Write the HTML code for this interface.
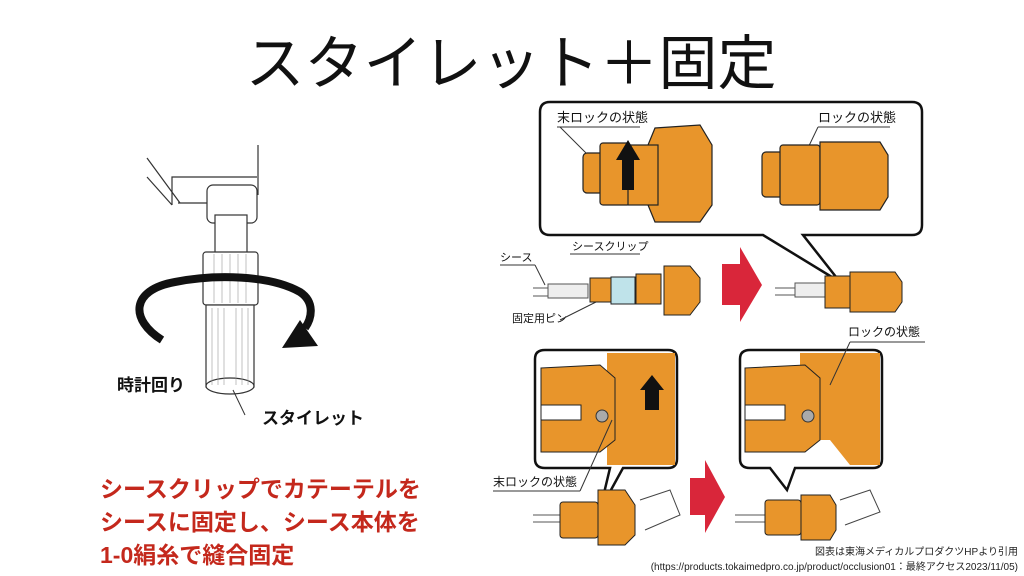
<!DOCTYPE html>
<html><head><meta charset="utf-8"><style>
html,body{margin:0;padding:0;background:#fff}
svg{display:block}
text{font-family:"Liberation Sans","Noto Sans CJK JP",sans-serif}
</style></head><body>
<svg width="1024" height="576" viewBox="0 0 1024 576" xmlns="http://www.w3.org/2000/svg">
<rect width="1024" height="576" fill="#fff"/>
<text x="511" y="84" font-size="59" text-anchor="middle" fill="#111">スタイレット＋固定</text>

<!-- left stylet illustration -->
<g stroke="#333" stroke-width="1.2" fill="#fff">
<line x1="147" y1="158" x2="180" y2="203"/>
<line x1="147" y1="177" x2="172" y2="205"/>
<polyline points="172,205 172,177 257,177" fill="none"/>
<line x1="258" y1="145" x2="258" y2="195"/>
<line x1="178" y1="203" x2="208" y2="203"/>
<rect x="207" y="185" width="50" height="38" rx="6"/>
<rect x="215" y="215" width="32" height="38"/>
<rect x="203" y="252" width="55" height="53" rx="3"/>
<rect x="206" y="305" width="48" height="82"/>
<ellipse cx="230" cy="386" rx="24" ry="8"/>
</g>
<g stroke="#999" stroke-width="0.6">
<line x1="212" y1="308" x2="212" y2="385"/><line x1="218" y1="308" x2="218" y2="385"/><line x1="224" y1="308" x2="224" y2="385"/><line x1="236" y1="308" x2="236" y2="385"/><line x1="242" y1="308" x2="242" y2="385"/><line x1="248" y1="308" x2="248" y2="385"/>
<line x1="214" y1="254" x2="214" y2="303"/><line x1="222" y1="254" x2="222" y2="303"/><line x1="230" y1="254" x2="230" y2="303"/><line x1="238" y1="254" x2="238" y2="303"/><line x1="246" y1="254" x2="246" y2="303"/>
</g>
<path d="M162,340 C130,320 130,290 175,282 C215,274 270,275 300,292 C315,302 312,318 305,328" fill="none" stroke="#111" stroke-width="8"/>
<polygon points="282,348 318,346 300,320" fill="#111"/>
<line x1="233" y1="390" x2="245" y2="415" stroke="#333" stroke-width="1"/>
<text x="117" y="391" font-size="17" font-weight="bold" fill="#111">時計回り</text>
<text x="262" y="424" font-size="17" font-weight="bold" fill="#111">スタイレット</text>

<!-- red text -->
<g font-size="23" font-weight="bold" fill="#C4281C">
<text x="100" y="497">シースクリップでカテーテルを</text>
<text x="100" y="530">シースに固定し、シース本体を</text>
<text x="100" y="563">1-0絹糸で縫合固定</text>
</g>

<!-- right diagram: top callout -->
<path d="M550,102 H912 Q922,102 922,112 V225 Q922,235 912,235 H803 L840,282 L763,235 H550 Q540,235 540,225 V112 Q540,102 550,102 Z" fill="#fff" stroke="#111" stroke-width="2.5"/>
<text x="557" y="122" font-size="13" fill="#111">末ロックの状態</text>
<text x="818" y="122" font-size="13" fill="#111">ロックの状態</text>
<line x1="557" y1="127" x2="640" y2="127" stroke="#333"/>
<line x1="560" y1="127" x2="608" y2="175" stroke="#333"/>
<line x1="818" y1="127" x2="890" y2="127" stroke="#333"/>
<line x1="818" y1="127" x2="795" y2="175" stroke="#333"/>
<g fill="#E8952B" stroke="#222" stroke-width="1.2">
<rect x="583" y="153" width="45" height="40" rx="4"/>
<rect x="600" y="143" width="30" height="62" rx="3"/>
<path d="M655,128 L700,125 L712,145 L712,205 L700,222 L655,222 L648,205 L648,145 Z"/>
<rect x="628" y="145" width="30" height="60"/>
<rect x="762" y="152" width="40" height="45" rx="4"/>
<rect x="780" y="145" width="40" height="60" rx="3"/>
<path d="M820,142 L880,142 L888,155 L888,197 L880,210 L820,210 Z"/>
</g>
<path d="M622,190 L622,160 L616,160 L628,140 L640,160 L634,160 L634,190 Z" fill="#111"/>

<!-- middle row -->
<text x="500" y="261" font-size="11" fill="#111">シース</text>
<text x="572" y="250" font-size="11" fill="#111">シースクリップ</text>
<text x="512" y="322" font-size="11" fill="#111">固定用ピン</text>
<line x1="500" y1="265" x2="535" y2="265" stroke="#333"/>
<line x1="535" y1="265" x2="545" y2="285" stroke="#333"/>
<line x1="570" y1="254" x2="640" y2="254" stroke="#333"/>
<line x1="560" y1="320" x2="600" y2="300" stroke="#333"/>
<line x1="533" y1="288" x2="560" y2="288" stroke="#555" stroke-width="1"/>
<line x1="533" y1="296" x2="560" y2="296" stroke="#555" stroke-width="1"/>
<rect x="548" y="284" width="40" height="14" fill="#eee" stroke="#555"/>
<rect x="590" y="278" width="28" height="24" fill="#E8952B" stroke="#222"/>
<rect x="611" y="277" width="24" height="27" fill="#BFE3EA" stroke="#222"/>
<rect x="636" y="274" width="25" height="30" fill="#E8952B" stroke="#222"/>
<path d="M664,266 L690,266 L700,278 L700,302 L690,315 L664,315 Z" fill="#E8952B" stroke="#222"/>
<polygon points="722,264 740,264 740,247 762,285 740,322 740,305 722,305" fill="#D9263A"/>
<line x1="775" y1="288" x2="800" y2="288" stroke="#555"/>
<line x1="775" y1="295" x2="800" y2="295" stroke="#555"/>
<rect x="795" y="283" width="30" height="14" fill="#eee" stroke="#555"/>
<rect x="825" y="276" width="25" height="32" fill="#E8952B" stroke="#222"/>
<path d="M850,272 L895,272 L902,282 L902,302 L895,312 L850,312 Z" fill="#E8952B" stroke="#222"/>
<text x="848" y="336" font-size="12" fill="#111">ロックの状態</text>
<line x1="850" y1="342" x2="925" y2="342" stroke="#333"/>

<!-- bottom boxes -->
<path d="M545,350 H668 Q677,350 677,359 V459 Q677,468 668,468 H623 L600,510 L610,468 H545 Q535,468 535,459 V359 Q535,350 545,350 Z" fill="#fff" stroke="#111" stroke-width="2.5"/>
<rect x="607" y="353" width="68" height="112" fill="#E8952B"/>
<path d="M541,368 L600,365 L615,378 L615,440 L600,452 L541,452 Z" fill="#E8952B" stroke="#222"/>
<rect x="541" y="405" width="40" height="15" fill="#fff" stroke="#222"/>
<circle cx="602" cy="416" r="6" fill="#aaa" stroke="#333"/>
<path d="M645,410 L645,390 L640,390 L652,375 L664,390 L659,390 L659,410 Z" fill="#111"/>

<path d="M750,350 H873 Q882,350 882,359 V459 Q882,468 873,468 H795 L787,490 L770,468 H750 Q740,468 740,459 V359 Q740,350 750,350 Z" fill="#fff" stroke="#111" stroke-width="2.5"/>
<path d="M800,353 H880 V465 H850 L830,440 L800,440 Z" fill="#E8952B"/>
<path d="M745,368 L805,365 L820,378 L820,440 L805,452 L745,452 Z" fill="#E8952B" stroke="#222"/>
<rect x="745" y="405" width="40" height="15" fill="#fff" stroke="#222"/>
<circle cx="808" cy="416" r="6" fill="#aaa" stroke="#333"/>
<line x1="850" y1="342" x2="830" y2="385" stroke="#333"/>

<polygon points="690,478 705,478 705,460 725,497 705,533 705,515 690,515" fill="#D9263A"/>
<text x="493" y="486" font-size="12" fill="#111">末ロックの状態</text>
<line x1="493" y1="491" x2="580" y2="491" stroke="#333"/>
<line x1="580" y1="491" x2="612" y2="420" stroke="#333"/>
<line x1="533" y1="515" x2="580" y2="515" stroke="#555"/>
<line x1="533" y1="522" x2="580" y2="522" stroke="#555"/>
<rect x="560" y="502" width="38" height="36" rx="3" fill="#E8952B" stroke="#222"/>
<path d="M598,490 L625,490 L635,505 L635,535 L625,545 L598,545 Z" fill="#E8952B" stroke="#222"/>
<line x1="735" y1="515" x2="770" y2="515" stroke="#555"/>
<line x1="735" y1="522" x2="770" y2="522" stroke="#555"/>
<rect x="765" y="500" width="36" height="35" rx="3" fill="#E8952B" stroke="#222"/>
<path d="M801,495 L830,495 L836,505 L836,530 L830,540 L801,540 Z" fill="#E8952B" stroke="#222"/>
<path d="M640,500 L670,490 L680,515 L645,530" fill="#fff" stroke="#444"/>
<path d="M840,500 L870,490 L880,512 L845,525" fill="#fff" stroke="#444"/>

<text x="1018" y="555" font-size="10" text-anchor="end" fill="#222">図表は東海メディカルプロダクツHPより引用</text>
<text x="1018" y="570" font-size="10" text-anchor="end" fill="#222">(https://products.tokaimedpro.co.jp/product/occlusion01：最終アクセス2023/11/05)</text>
</svg>
</body></html>
